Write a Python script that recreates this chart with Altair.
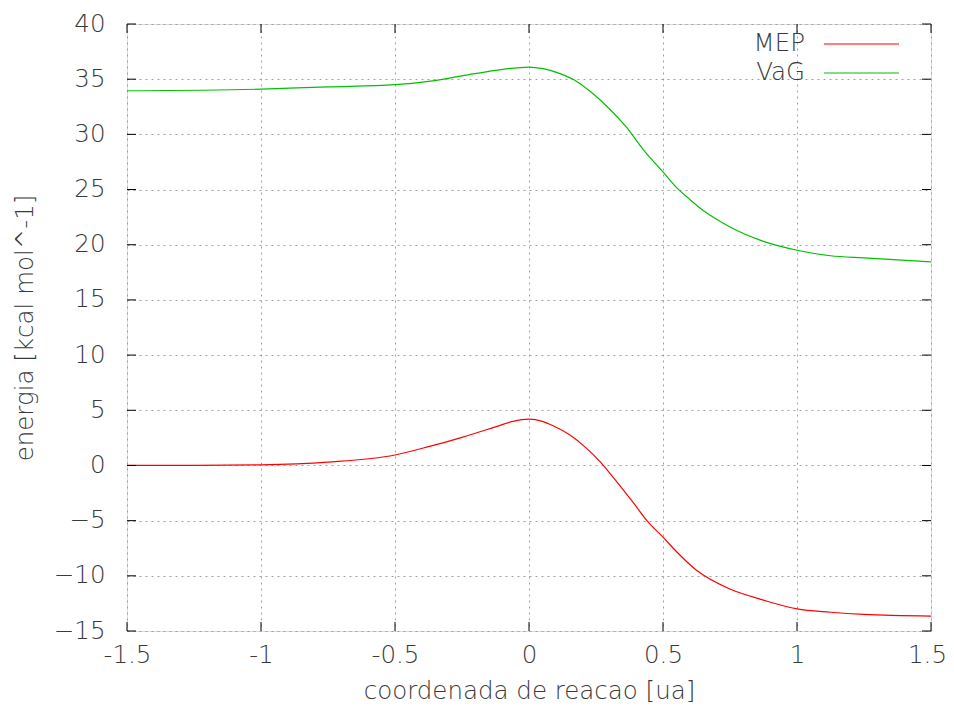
import altair as alt
import pandas as pd

x_mep = [-1.5, -1.25, -1.0, -0.75, -0.5, -0.375, -0.25, -0.125, -0.06, 0.0, 0.05, 0.09, 0.15,
         0.215, 0.265, 0.315, 0.39, 0.44, 0.5, 0.55, 0.625, 0.75, 0.875, 1.0, 1.125, 1.25, 1.5]
y_mep = [0.0, 0.0, 0.05, 0.3, 0.95, 1.7, 2.55, 3.5, 4.0, 4.2, 4.0, 3.6, 2.8,
         1.55, 0.35, -1.1, -3.4, -5.0, -6.5, -7.8, -9.5, -11.2, -12.2, -13.0, -13.3, -13.5, -13.65]

x_vag = [-1.5, -1.0, -0.75, -0.5, -0.375, -0.25, -0.125, 0.0, 0.053, 0.116, 0.178, 0.228, 0.29,
         0.365, 0.427, 0.5, 0.55, 0.6, 0.65, 0.7, 0.75, 0.875, 1.0, 1.125, 1.25, 1.5]
y_vag = [33.95, 34.1, 34.3, 34.5, 34.8, 35.3, 35.8, 36.1, 35.95, 35.5, 34.8, 33.9, 32.55,
         30.6, 28.6, 26.6, 25.2, 24.1, 23.1, 22.3, 21.6, 20.3, 19.5, 19.0, 18.8, 18.45]

series_names = ["MEP", "VaG"]
series_colors = ["#ff0000", "#00c000"]
x_ticks = [-1.5, -1, -0.5, 0, 0.5, 1, 1.5]
y_ticks = [-15, -10, -5, 0, 5, 10, 15, 20, 25, 30, 35, 40]

W, H = 804, 607
FONT = "DejaVu Sans"
FS = 24.5
TXT = "#3a3a3a"

df = pd.concat([
    pd.DataFrame({"x": x_mep, "y": y_mep, "serie": "MEP"}),
    pd.DataFrame({"x": x_vag, "y": y_vag, "serie": "VaG"}),
])

xs = alt.Scale(domain=[-1.5, 1.5], nice=False, zero=False)
ys = alt.Scale(domain=[-15, 40], nice=False, zero=False)

common = dict(grid=True, gridDash=[2, 4], gridColor="#a0a0a0", ticks=False, domain=False,
              labelFontSize=FS, titleFontSize=FS, labelFont=FONT, titleFont=FONT,
              labelFontWeight=300, titleFontWeight=300, labelColor=TXT, titleColor=TXT)

lines = alt.Chart(df).mark_line(strokeWidth=1.2, interpolate="monotone").encode(
    x=alt.X("x:Q", scale=xs,
            axis=alt.Axis(values=x_ticks, title="coordenada de reacao [ua]",
                          labelPadding=12, titlePadding=13, labelExpr="datum.value",
                          labelFlush=False,
                          labelOffset=alt.ExprRef(expr="datum.value == 1.5 ? -4 : 0"),
                          **common)),
    y=alt.Y("y:Q", scale=ys,
            axis=alt.Axis(values=y_ticks, title="energia [kcal mol^-1]",
                          labelPadding=22, titlePadding=16, labelFlush=False, **common)),
    color=alt.Color("serie:N", scale=alt.Scale(domain=series_names, range=series_colors),
                    legend=None),
    detail="serie:N",
)

xt = pd.DataFrame({"v": x_ticks})
yt = pd.DataFrame({"v": y_ticks})
tick_col = "#000"
xb = alt.Chart(xt).mark_rule(color=tick_col).encode(
    x=alt.X("v:Q", scale=xs), y=alt.value(H), y2=alt.value(H - 9))
xtop = alt.Chart(xt).mark_rule(color=tick_col).encode(
    x=alt.X("v:Q", scale=xs), y=alt.value(0), y2=alt.value(9))
yl = alt.Chart(yt).mark_rule(color=tick_col).encode(
    y=alt.Y("v:Q", scale=ys), x=alt.value(0), x2=alt.value(9))
yr = alt.Chart(yt).mark_rule(color=tick_col).encode(
    y=alt.Y("v:Q", scale=ys), x=alt.value(W), x2=alt.value(W - 9))

leg = pd.DataFrame({"serie": series_names, "ly": [20, 49]})
leg_text = alt.Chart(leg).mark_text(align="right", baseline="middle", fontSize=FS,
                                    font=FONT, fontWeight=300, color=TXT).encode(
    text="serie:N", x=alt.value(678), y=alt.Y("ly:Q", scale=None))
leg_line = alt.Chart(leg).mark_rule(strokeWidth=1.2).encode(
    x=alt.value(697), x2=alt.value(772), y=alt.Y("ly:Q", scale=None),
    color=alt.Color("serie:N", scale=alt.Scale(domain=series_names, range=series_colors),
                    legend=None))

chart = alt.layer(lines, xb, xtop, yl, yr, leg_text, leg_line).properties(
    width=W, height=H,
    autosize=alt.AutoSizeParams(type="none"),
    padding={"left": 119, "top": 16, "right": 15, "bottom": 76},
).configure_view(stroke="#000", strokeWidth=1.2).configure(background="white")

chart.save("out.html", embed_options={"renderer": "svg", "actions": False})
